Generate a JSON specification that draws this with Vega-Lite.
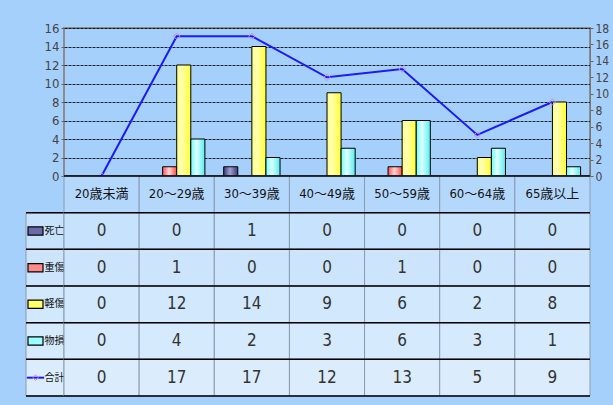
{
  "$schema": "https://vega.github.io/schema/vega-lite/v6.json",
  "background": "#a6d0fc",
  "padding": {"left": 22, "top": 21, "right": 7, "bottom": 10},
  "autosize": {"type": "pad"},
  "columns": 2,
  "spacing": 0,
  "bounds": "flush",
  "resolve": {"scale": {"x": "independent", "y": "independent", "fill": "independent", "color": "independent", "shape": "independent"}},
  "config": {"view": {"stroke": null}, "font": "Liberation Sans Narrow, DejaVu Sans Condensed, Liberation Sans, Noto Sans CJK JP"},
  "datasets": {
    "t": [
      {"a": "20歳未満", "s": "死亡", "v": 0}, {"a": "20～29歳", "s": "死亡", "v": 0}, {"a": "30～39歳", "s": "死亡", "v": 1}, {"a": "40～49歳", "s": "死亡", "v": 0}, {"a": "50～59歳", "s": "死亡", "v": 0}, {"a": "60～64歳", "s": "死亡", "v": 0}, {"a": "65歳以上", "s": "死亡", "v": 0},
      {"a": "20歳未満", "s": "重傷", "v": 0}, {"a": "20～29歳", "s": "重傷", "v": 1}, {"a": "30～39歳", "s": "重傷", "v": 0}, {"a": "40～49歳", "s": "重傷", "v": 0}, {"a": "50～59歳", "s": "重傷", "v": 1}, {"a": "60～64歳", "s": "重傷", "v": 0}, {"a": "65歳以上", "s": "重傷", "v": 0},
      {"a": "20歳未満", "s": "軽傷", "v": 0}, {"a": "20～29歳", "s": "軽傷", "v": 12}, {"a": "30～39歳", "s": "軽傷", "v": 14}, {"a": "40～49歳", "s": "軽傷", "v": 9}, {"a": "50～59歳", "s": "軽傷", "v": 6}, {"a": "60～64歳", "s": "軽傷", "v": 2}, {"a": "65歳以上", "s": "軽傷", "v": 8},
      {"a": "20歳未満", "s": "物損", "v": 0}, {"a": "20～29歳", "s": "物損", "v": 4}, {"a": "30～39歳", "s": "物損", "v": 2}, {"a": "40～49歳", "s": "物損", "v": 3}, {"a": "50～59歳", "s": "物損", "v": 6}, {"a": "60～64歳", "s": "物損", "v": 3}, {"a": "65歳以上", "s": "物損", "v": 1},
      {"a": "20歳未満", "s": "合計", "v": 0}, {"a": "20～29歳", "s": "合計", "v": 17}, {"a": "30～39歳", "s": "合計", "v": 17}, {"a": "40～49歳", "s": "合計", "v": 12}, {"a": "50～59歳", "s": "合計", "v": 13}, {"a": "60～64歳", "s": "合計", "v": 5}, {"a": "65歳以上", "s": "合計", "v": 9}
    ]
  },
  "concat": [
    {
      "width": 38, "height": 148,
      "data": {"values": [{"k": 1}]},
      "mark": {"type": "text", "text": ""},
      "encoding": {}
    },
    {
      "width": 526, "height": 148,
      "view": {"stroke": "#8c8c8c", "strokeWidth": 2},
      "data": {"name": "t"},
      "resolve": {"scale": {"y": "independent"}},
      "layer": [
        {
          "encoding": {
            "x": {"field": "a", "type": "nominal", "sort": null,
                  "scale": {"domain": ["20歳未満", "20～29歳", "30～39歳", "40～49歳", "50～59歳", "60～64歳", "65歳以上"], "paddingInner": 0.25, "paddingOuter": 0.125},
                  "axis": {"title": null, "labels": false, "ticks": false, "domain": true, "domainColor": "#000", "domainWidth": 1.5, "grid": false}},
            "xOffset": {"field": "s", "type": "nominal", "scale": {"domain": ["死亡", "重傷", "軽傷", "物損"]}},
            "y": {"field": "v", "type": "quantitative", "scale": {"domain": [0, 16]},
                  "axis": {"orient": "left", "values": [0, 2, 4, 6, 8, 10, 12, 14, 16], "title": null, "grid": true, "gridColor": "#000", "gridDash": [3, 1], "gridWidth": 1, "gridOpacity": 0.85, "domain": false, "tickSize": 3, "tickColor": "#666", "labelColor": "#444", "labelFontSize": 13, "labelPadding": 2}}
          },
          "layer": [
            {"transform": [{"filter": "datum.s === '死亡' && datum.v > 0"}],
             "mark": {"type": "bar", "stroke": "#000", "strokeWidth": 1,
                      "fill": {"gradient": "linear", "x1": 0, "y1": 0, "x2": 1, "y2": 0, "stops": [{"offset": 0, "color": "#3a3a7a"}, {"offset": 0.45, "color": "#a0a0d0"}, {"offset": 1, "color": "#3a3a7a"}]}}},
            {"transform": [{"filter": "datum.s === '重傷' && datum.v > 0"}],
             "mark": {"type": "bar", "stroke": "#000", "strokeWidth": 1,
                      "fill": {"gradient": "linear", "x1": 0, "y1": 0, "x2": 1, "y2": 0, "stops": [{"offset": 0, "color": "#ff4d4d"}, {"offset": 0.45, "color": "#ffd6d6"}, {"offset": 1, "color": "#ff4d4d"}]}}},
            {"transform": [{"filter": "datum.s === '軽傷' && datum.v > 0"}],
             "mark": {"type": "bar", "stroke": "#000", "strokeWidth": 1,
                      "fill": {"gradient": "linear", "x1": 0, "y1": 0, "x2": 1, "y2": 0, "stops": [{"offset": 0, "color": "#ffff70"}, {"offset": 0.3, "color": "#ffffb8"}, {"offset": 1, "color": "#ffff30"}]}}},
            {"transform": [{"filter": "datum.s === '物損' && datum.v > 0"}],
             "mark": {"type": "bar", "stroke": "#000", "strokeWidth": 1,
                      "fill": {"gradient": "linear", "x1": 0, "y1": 0, "x2": 1, "y2": 0, "stops": [{"offset": 0, "color": "#66ffff"}, {"offset": 0.4, "color": "#e0ffff"}, {"offset": 1, "color": "#55eeee"}]}}}
          ]
        },
        {
          "transform": [{"filter": "datum.s === '合計'"}],
          "mark": {"type": "line", "color": "#1a1aff", "strokeWidth": 2,
                   "point": {"shape": "diamond", "filled": false, "color": "#cc88ee", "size": 40, "strokeWidth": 1, "opacity": 1}},
          "encoding": {
            "x": {"field": "a", "type": "nominal", "sort": null,
                  "scale": {"domain": ["20歳未満", "20～29歳", "30～39歳", "40～49歳", "50～59歳", "60～64歳", "65歳以上"], "paddingInner": 0.25, "paddingOuter": 0.125}},
            "y": {"field": "v", "type": "quantitative", "scale": {"domain": [0, 18]},
                  "axis": {"orient": "right", "values": [0, 2, 4, 6, 8, 10, 12, 14, 16, 18], "title": null, "grid": false, "domain": true, "domainColor": "#777", "tickSize": 3, "tickColor": "#666", "labelColor": "#444", "labelFontSize": 12, "labelPadding": 2}}
          }
        }
      ]
    },
    {
      "width": 38, "height": 220,
      "data": {"name": "t"},
      "transform": [{"filter": "datum.a === '20歳未満'"}],
      "layer": [
        {"mark": {"type": "rect", "stroke": "#8a9bb0", "strokeWidth": 1},
         "encoding": {
           "y": {"field": "s", "type": "nominal", "scale": {"domain": ["hdr", "死亡", "重傷", "軽傷", "物損", "合計"], "paddingInner": 0, "paddingOuter": 0}, "axis": null},
           "fill": {"field": "s", "type": "nominal", "scale": {"domain": ["死亡", "重傷", "軽傷", "物損", "合計"], "range": ["#c6e2fc", "#cce5fc", "#d1e8fd", "#d6eafd", "#dbedfd"]}, "legend": null}
         }},
        {"transform": [{"filter": "datum.s !== '合計'"}],
         "mark": {"type": "point", "shape": "M-1,-0.55H1V0.55H-1Z", "size": 225, "filled": true, "stroke": "#000", "strokeWidth": 1.2, "opacity": 1},
         "encoding": {
           "x": {"datum": "s", "type": "nominal", "scale": {"domain": ["s", "t"], "paddingInner": 0, "paddingOuter": 0}, "axis": null},
           "y": {"field": "s", "type": "nominal", "scale": {"domain": ["hdr", "死亡", "重傷", "軽傷", "物損", "合計"], "paddingInner": 0, "paddingOuter": 0}, "axis": null},
           "color": {"field": "s", "type": "nominal", "scale": {"domain": ["死亡", "重傷", "軽傷", "物損"], "range": ["#6a6aaa", "#ff8a8a", "#ffff66", "#99ffff"]}, "legend": null}
         }},
        {"transform": [{"filter": "datum.s === '合計'"}],
         "mark": {"type": "point", "shape": "M-1,0H1", "size": 300, "filled": false, "stroke": "#1a1aff", "strokeWidth": 2, "opacity": 1},
         "encoding": {
           "x": {"datum": "s", "type": "nominal", "scale": {"domain": ["s", "t"], "paddingInner": 0, "paddingOuter": 0}, "axis": null},
           "y": {"field": "s", "type": "nominal", "scale": {"domain": ["hdr", "死亡", "重傷", "軽傷", "物損", "合計"], "paddingInner": 0, "paddingOuter": 0}, "axis": null}
         }},
        {"transform": [{"filter": "datum.s === '合計'"}],
         "mark": {"type": "point", "shape": "diamond", "size": 30, "filled": false, "stroke": "#cc88ee", "strokeWidth": 1, "opacity": 1},
         "encoding": {
           "x": {"datum": "s", "type": "nominal", "scale": {"domain": ["s", "t"], "paddingInner": 0, "paddingOuter": 0}, "axis": null},
           "y": {"field": "s", "type": "nominal", "scale": {"domain": ["hdr", "死亡", "重傷", "軽傷", "物損", "合計"], "paddingInner": 0, "paddingOuter": 0}, "axis": null}
         }},
        {"mark": {"type": "text", "font": "Noto Sans CJK JP", "fontSize": 10, "color": "#111", "align": "center"},
         "encoding": {
           "x": {"datum": "t", "type": "nominal", "scale": {"domain": ["s", "t"], "paddingInner": 0, "paddingOuter": 0}, "axis": null},
           "y": {"field": "s", "type": "nominal", "scale": {"domain": ["hdr", "死亡", "重傷", "軽傷", "物損", "合計"], "paddingInner": 0, "paddingOuter": 0}, "axis": null},
           "text": {"field": "s"}
         }},
        {"mark": {"type": "rule", "color": "#000", "strokeWidth": 1.5},
         "encoding": {
           "y": {"field": "s", "type": "nominal", "bandPosition": 0, "scale": {"domain": ["hdr", "死亡", "重傷", "軽傷", "物損", "合計"], "paddingInner": 0, "paddingOuter": 0}, "axis": null}
         }},
        {"transform": [{"filter": "datum.s === '合計'"}],
         "mark": {"type": "rule", "color": "#000", "strokeWidth": 1.5},
         "encoding": {
           "y": {"field": "s", "type": "nominal", "bandPosition": 1, "scale": {"domain": ["hdr", "死亡", "重傷", "軽傷", "物損", "合計"], "paddingInner": 0, "paddingOuter": 0}, "axis": null}
         }}
      ]
    },
    {
      "width": 526, "height": 220,
      "data": {"name": "t"},
      "layer": [
        {"transform": [{"filter": "datum.s === '合計'"}],
         "mark": {"type": "rect", "fill": "#b4d8fc", "stroke": "#8a9bb0", "strokeWidth": 1},
         "encoding": {
           "x": {"field": "a", "type": "nominal", "sort": null, "scale": {"domain": ["20歳未満", "20～29歳", "30～39歳", "40～49歳", "50～59歳", "60～64歳", "65歳以上"], "paddingInner": 0, "paddingOuter": 0}, "axis": null},
           "y": {"datum": "hdr", "type": "nominal", "scale": {"domain": ["hdr", "死亡", "重傷", "軽傷", "物損", "合計"], "paddingInner": 0, "paddingOuter": 0}, "axis": null}
         }},
        {"mark": {"type": "rect", "stroke": "#8a9bb0", "strokeWidth": 1},
         "encoding": {
           "x": {"field": "a", "type": "nominal", "sort": null, "scale": {"domain": ["20歳未満", "20～29歳", "30～39歳", "40～49歳", "50～59歳", "60～64歳", "65歳以上"], "paddingInner": 0, "paddingOuter": 0}, "axis": null},
           "y": {"field": "s", "type": "nominal", "scale": {"domain": ["hdr", "死亡", "重傷", "軽傷", "物損", "合計"], "paddingInner": 0, "paddingOuter": 0}, "axis": null},
           "fill": {"field": "s", "type": "nominal", "scale": {"domain": ["死亡", "重傷", "軽傷", "物損", "合計"], "range": ["#c6e2fc", "#cce5fc", "#d1e8fd", "#d6eafd", "#dbedfd"]}, "legend": null}
         }},
        {"transform": [{"filter": "datum.s === '合計'"}],
         "mark": {"type": "text", "fontSize": 13, "color": "#111"},
         "encoding": {
           "x": {"field": "a", "type": "nominal", "sort": null, "scale": {"domain": ["20歳未満", "20～29歳", "30～39歳", "40～49歳", "50～59歳", "60～64歳", "65歳以上"], "paddingInner": 0, "paddingOuter": 0}, "axis": null},
           "y": {"datum": "hdr", "type": "nominal", "scale": {"domain": ["hdr", "死亡", "重傷", "軽傷", "物損", "合計"], "paddingInner": 0, "paddingOuter": 0}, "axis": null},
           "text": {"field": "a"}
         }},
        {"mark": {"type": "text", "fontSize": 17, "color": "#333"},
         "encoding": {
           "x": {"field": "a", "type": "nominal", "sort": null, "scale": {"domain": ["20歳未満", "20～29歳", "30～39歳", "40～49歳", "50～59歳", "60～64歳", "65歳以上"], "paddingInner": 0, "paddingOuter": 0}, "axis": null},
           "y": {"field": "s", "type": "nominal", "scale": {"domain": ["hdr", "死亡", "重傷", "軽傷", "物損", "合計"], "paddingInner": 0, "paddingOuter": 0}, "axis": null},
           "text": {"field": "v", "type": "quantitative"}
         }},
        {"transform": [{"filter": "datum.a === '20歳未満'"}],
         "mark": {"type": "rule", "color": "#000", "strokeWidth": 1.5},
         "encoding": {
           "y": {"field": "s", "type": "nominal", "bandPosition": 0, "scale": {"domain": ["hdr", "死亡", "重傷", "軽傷", "物損", "合計"], "paddingInner": 0, "paddingOuter": 0}, "axis": null}
         }},
        {"transform": [{"filter": "datum.a === '20歳未満' && datum.s === '合計'"}],
         "mark": {"type": "rule", "color": "#000", "strokeWidth": 1.5},
         "encoding": {
           "y": {"field": "s", "type": "nominal", "bandPosition": 1, "scale": {"domain": ["hdr", "死亡", "重傷", "軽傷", "物損", "合計"], "paddingInner": 0, "paddingOuter": 0}, "axis": null}
         }},
        {"transform": [{"filter": "datum.a === '20歳未満' && datum.s === '合計'"}],
         "mark": {"type": "rule", "color": "#000", "strokeWidth": 1.5},
         "encoding": {
           "y": {"datum": "hdr", "type": "nominal", "bandPosition": 0, "scale": {"domain": ["hdr", "死亡", "重傷", "軽傷", "物損", "合計"], "paddingInner": 0, "paddingOuter": 0}, "axis": null}
         }}
      ]
    }
  ]
}
